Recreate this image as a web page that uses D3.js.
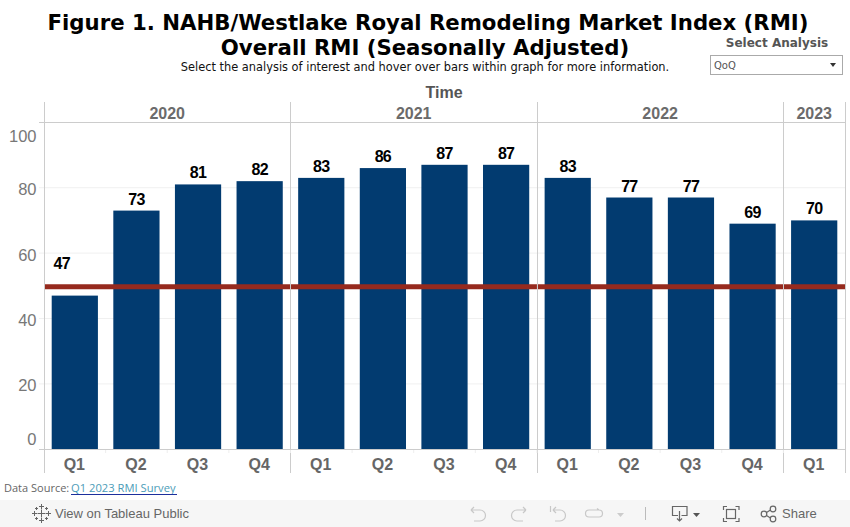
<!DOCTYPE html>
<html>
<head>
<meta charset="utf-8">
<script src="https://cdn.jsdelivr.net/npm/d3@7/dist/d3.min.js"></script>
<style>
html, body { margin: 0; padding: 0; background: #fff; overflow: hidden; }
svg { display: block; }
</style>
</head>
<body>
<svg id="chart" width="850" height="527"></svg>
<script>
//data
const years = ["2020", "2021", "2022", "2023"]
const quarters = [
  ["Q1", "Q2", "Q3", "Q4"],
  ["Q1", "Q2", "Q3", "Q4"],
  ["Q1", "Q2", "Q3", "Q4"],
  ["Q1"]
]
const rmiValues = [47, 73, 81, 82, 83, 86, 87, 87, 83, 77, 77, 69, 70]
const yTicks = [0, 20, 40, 60, 80, 100]
const referenceValue = 50

const ARIAL = "'Liberation Sans', Arial, sans-serif"
const DEJAVU = "'DejaVu Sans', sans-serif"
const svg = d3.select("#chart")

//one key per bar
var keys = []
years.forEach(function(y, i) {
  quarters[i].forEach(function(q) { keys.push(y + " " + q) })
})

const x = d3.scaleBand().domain(keys).range([44, 845]).paddingInner(0.25).paddingOuter(0.125)
const y = d3.scaleLinear().domain([0, 100]).range([449.3, 122.3])

function paneEdges(i) {
  var first = keys.indexOf(years[i] + " " + quarters[i][0])
  var left = 44 + first * x.step()
  return [left, left + quarters[i].length * x.step()]
}

//titles
function addText(px, py, txt, font, size, weight, color, anchor) {
  return svg.append("text").attr("x", px).attr("y", py).text(txt)
    .attr("font-family", font).attr("font-size", size).attr("font-weight", weight)
    .attr("fill", color).attr("text-anchor", anchor || "middle")
}
addText(428, 30, "Figure 1. NAHB/Westlake Royal Remodeling Market Index (RMI)", DEJAVU, 21.25, "bold", "#000")
addText(425, 55, "Overall RMI (Seasonally Adjusted)", DEJAVU, 21.25, "bold", "#000")
addText(425, 71, "Select the analysis of interest and hover over bars within graph for more information.", DEJAVU, 11.4, "normal", "#111")
addText(777, 47, "Select Analysis", DEJAVU, 12, "bold", "#555")
addText(444, 98, "Time", ARIAL, 16, "bold", "#555")

//dropdown
svg.append("rect").attr("x", 710.5).attr("y", 55.5).attr("width", 132).attr("height", 19)
  .attr("fill", "#fff").attr("stroke", "#aaa")
addText(714, 69, "QoQ", DEJAVU, 10, "normal", "#555", "start")
svg.append("path").attr("d", "M830 63h6l-3 4z").attr("fill", "#333")

//gridlines
svg.append("g").selectAll("line").data(yTicks.slice(1, -1)).join("line")
  .attr("x1", 39).attr("x2", 845.5)
  .attr("y1", function(d) { return y(d) }).attr("y2", function(d) { return y(d) })
  .attr("stroke", "#f0f0f0").attr("stroke-width", 1)

//y axis
const yAxis = svg.append("g").attr("transform", "translate(44,0)")
  .call(d3.axisLeft(y).tickValues(yTicks).tickSize(0).tickPadding(7.5))
yAxis.select(".domain").remove()
yAxis.selectAll("text")
  .attr("font-family", ARIAL).attr("font-size", 16.5).attr("fill", "#777")
  .attr("dy", function(d) { return d == 100 ? 19 : d == 0 ? -5 : 7 })

//bars
svg.append("g").selectAll("rect").data(rmiValues).join("rect")
  .attr("x", function(d, i) { return x(keys[i]) })
  .attr("width", x.bandwidth())
  .attr("y", function(d) { return y(d) })
  .attr("height", function(d) { return y(0) - y(d) })
  .attr("fill", "#023b70")

//reference line, one piece per pane
years.forEach(function(yr, i) {
  var e = paneEdges(i)
  svg.append("line").attr("x1", e[0]).attr("x2", e[1])
    .attr("y1", y(referenceValue) + 1).attr("y2", y(referenceValue) + 1)
    .attr("stroke", "#962a1e").attr("stroke-width", 5)
})

//value labels (the 47 sits above the red line in the original)
svg.append("g").selectAll("text").data(rmiValues).join("text")
  .attr("x", function(d, i) { return x(keys[i]) + x.bandwidth() / 2 - (d == 47 ? 13 : 0) })
  .attr("y", function(d) { return d == 47 ? 269 : y(d) - 6 })
  .attr("text-anchor", "middle")
  .attr("font-family", ARIAL).attr("font-size", 16).attr("font-weight", "bold").attr("fill", "#000")
  .attr("letter-spacing", "-0.7px")
  .text(function(d) { return d })

//header rule, baseline and pane dividers
svg.append("line").attr("x1", 39).attr("x2", 845.5).attr("y1", 122.5).attr("y2", 122.5).attr("stroke", "#ccc")
svg.append("line").attr("x1", 39).attr("x2", 845.5).attr("y1", 449.5).attr("y2", 449.5).attr("stroke", "#ccc")

const dividers = [paneEdges(0)[0]].concat(years.map(function(yr, i) { return paneEdges(i)[1] }))
svg.append("g").selectAll("line").data(dividers).join("line")
  .attr("x1", function(d) { return Math.round(d) + 0.5 }).attr("x2", function(d) { return Math.round(d) + 0.5 })
  .attr("y1", 102).attr("y2", 473).attr("stroke", "#ccc")

//small ticks between quarters
svg.append("g").selectAll("line").data(keys.slice(1)).join("line")
  .attr("x1", function(d, i) { return 44 + (i + 1) * x.step() }).attr("x2", function(d, i) { return 44 + (i + 1) * x.step() })
  .attr("y1", 450).attr("y2", 453).attr("stroke", "#eee")

//year headers
years.forEach(function(yr, i) {
  var e = paneEdges(i)
  addText((e[0] + e[1]) / 2, 118.5, yr, ARIAL, 16, "bold", "#6b6b6b")
})

//quarter labels
const xAxis = svg.append("g").attr("transform", "translate(-0.5,449.5)")
  .call(d3.axisBottom(x).tickSize(0).tickPadding(9).tickFormat(function(d) { return d.split(" ")[1] }))
xAxis.select(".domain").remove()
xAxis.selectAll("text")
  .attr("font-family", ARIAL).attr("font-size", 16).attr("font-weight", "bold").attr("fill", "#666")

//source
addText(4, 492, "Data Source:", "'Open Sans', sans-serif", 11, "normal", "#666", "start")
addText(71, 492, "Q1 2023 RMI Survey", "'Open Sans', sans-serif", 11.2, "normal", "#4b9cb8", "start")
svg.append("line").attr("x1", 71).attr("x2", 177).attr("y1", 494.5).attr("y2", 494.5).attr("stroke", "#1c2f9c")

//tableau toolbar
svg.append("rect").attr("x", 0).attr("y", 500).attr("width", 850).attr("height", 27).attr("fill", "#f6f6f6")
addText(55, 518, "View on Tableau Public", ARIAL, 13, "normal", "#666", "start")
addText(782, 518, "Share", ARIAL, 13, "normal", "#666", "start")

const logo = svg.append("g").attr("stroke", "#666").attr("stroke-width", 1).attr("fill", "none")
;[[41.5, 513.5, 4], [41.5, 506.5, 2.5], [41.5, 520.5, 2.5], [34.5, 513.5, 2.5], [48.5, 513.5, 2.5], [36.5, 508.5, 1.5], [46.5, 508.5, 1.5], [36.5, 518.5, 1.5], [46.5, 518.5, 1.5]].forEach(function(p) {
  logo.append("path").attr("d", "M" + (p[0] - p[2]) + " " + p[1] + "h" + (2 * p[2]) + "M" + p[0] + " " + (p[1] - p[2]) + "v" + (2 * p[2]))
})

const faint = svg.append("g").attr("fill", "none").attr("stroke", "#c8c8c8").attr("stroke-width", 1.2)
faint.append("path").attr("d", "M471 510h9a5.500 5.500 0 0 1 0 11h-6M471 510l3-3M471 510l3 3")
faint.append("path").attr("d", "M526 510h-9a5.500 5.500 0 0 0 0 11h6M526 510l-3-3M526 510l-3 3")
faint.append("path").attr("d", "M550.500 506v6M553 510h7a5.500 5.500 0 0 1 0 11h-5M553 510l3-3M553 510l3 3")
faint.append("path").attr("d", "M592 510h7a3.500 3.500 0 0 1 0 7h-10a3.500 3.500 0 0 1 0-7h3M599 510l-2-1.500")
svg.append("path").attr("d", "M617 513h7l-3.500 4z").attr("fill", "#ccc")
svg.append("line").attr("x1", 645.5).attr("x2", 645.5).attr("y1", 507).attr("y2", 520).attr("stroke", "#bbb")

const dark = svg.append("g").attr("fill", "none").attr("stroke", "#666").attr("stroke-width", 1.2)
dark.append("path").attr("d", "M678 515.500h-5.500v-9h14.500v9h-5.500M679.500 511v9.500M677 518.500l2.500 2.500 2.500-2.500")
svg.append("path").attr("d", "M693 513h7l-3.500 4z").attr("fill", "#555")
dark.append("path").attr("d", "M723.500 510v-3.500h3.500M735.500 506.500h3.500v3.500M739 518v3.500h-3.500M727 521.500h-3.500v-3.500")
dark.append("rect").attr("x", 726.500).attr("y", 509.500).attr("width", 9).attr("height", 9)
dark.append("circle").attr("cx", 773).attr("cy", 509).attr("r", 2.800)
dark.append("circle").attr("cx", 764).attr("cy", 514).attr("r", 2.800)
dark.append("circle").attr("cx", 773).attr("cy", 519).attr("r", 2.800)
dark.append("path").attr("d", "M766.500 512.500l4-2.500M766.500 515.500l4 2.500")
</script>
</body>
</html>
